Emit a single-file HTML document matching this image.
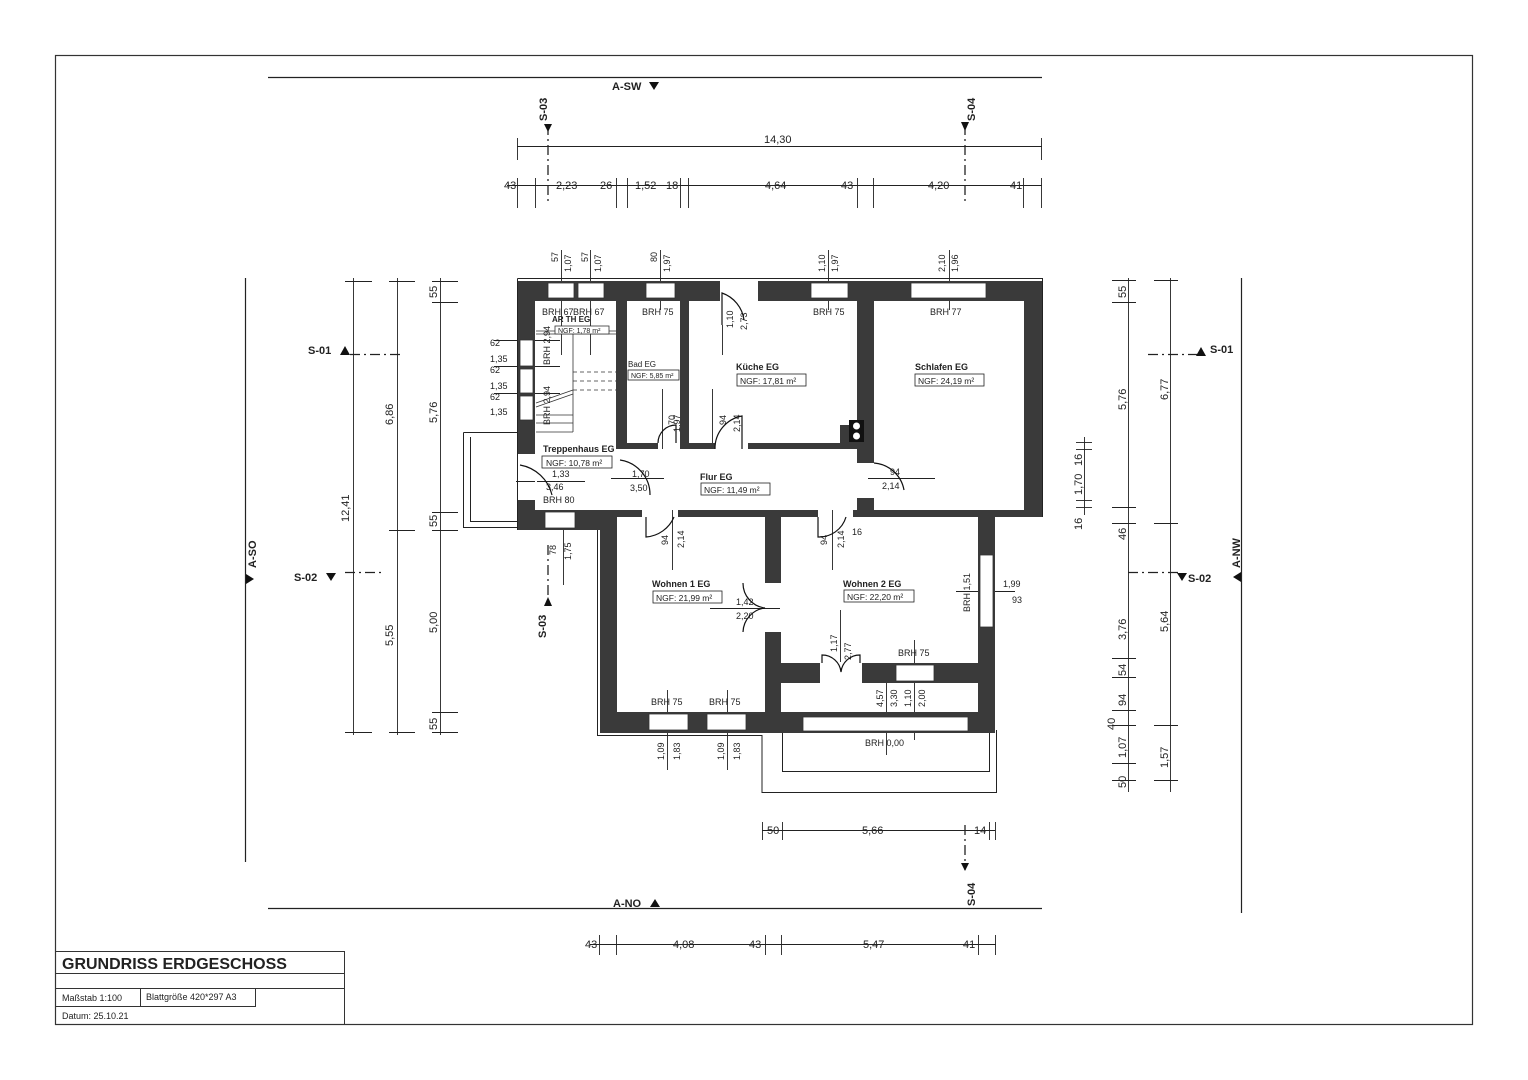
<!DOCTYPE html>
<html><head><meta charset="utf-8"><style>
html,body{margin:0;padding:0;background:#fff}
svg{display:block}
text{font-family:"Liberation Sans",sans-serif;fill:#222}
</style></head><body>
<svg width="1528" height="1080" viewBox="0 0 1528 1080" xmlns="http://www.w3.org/2000/svg">
<rect x="0" y="0" width="1528" height="1080" fill="#fff"/>
<rect x="55.5" y="55.5" width="1417" height="969" fill="none" stroke="#333" stroke-width="1.2"/>

<!-- title block -->
<g stroke="#333" stroke-width="1" fill="none">
<rect x="55.5" y="951.5" width="289" height="73"/>
<line x1="55" y1="973.5" x2="345" y2="973.5"/>
<line x1="55" y1="988.5" x2="345" y2="988.5"/>
<line x1="55" y1="1006.5" x2="255" y2="1006.5"/>
<line x1="140.5" y1="988" x2="140.5" y2="1007"/>
<line x1="255.5" y1="988" x2="255.5" y2="1007"/>
</g>
<text x="62" y="969" font-size="16" font-weight="bold">GRUNDRISS ERDGESCHOSS</text>
<text x="62" y="1001" font-size="9">Maßstab 1:100</text>
<text x="146" y="1000" font-size="9">Blattgröße 420*297 A3</text>
<text x="62" y="1019" font-size="9">Datum: 25.10.21</text>

<!-- view lines -->
<g stroke="#222" stroke-width="1.2">
<line x1="268" y1="77.5" x2="1042" y2="77.5"/>
<line x1="268" y1="908.5" x2="1042" y2="908.5"/>
<line x1="245.5" y1="278" x2="245.5" y2="862"/>
<line x1="1241.5" y1="278" x2="1241.5" y2="913"/>
</g>
<text x="612" y="90" font-size="11" font-weight="bold">A-SW</text>
<polygon points="649,82 659,82 654,90" fill="#111"/>
<text x="613" y="907" font-size="11" font-weight="bold">A-NO</text>
<polygon points="650,907 660,907 655,899" fill="#111"/>
<text transform="translate(256,568) rotate(-90)" font-size="11" font-weight="bold">A-SO</text>
<polygon points="246,574 254,579 246,584" fill="#111"/>
<text transform="translate(1240,568) rotate(-90)" font-size="11" font-weight="bold">A-NW</text>
<polygon points="1241,572 1233,577 1241,582" fill="#111"/>

<!-- section lines -->
<g stroke="#222" stroke-width="1.3" stroke-dasharray="10,4,2,4">
<line x1="548" y1="125" x2="548" y2="205"/>
<line x1="965" y1="125" x2="965" y2="205"/>
<line x1="548" y1="545" x2="548" y2="595"/>
<line x1="965" y1="825" x2="965" y2="870"/>
<line x1="350" y1="354.5" x2="400" y2="354.5"/>
<line x1="1148" y1="354.5" x2="1200" y2="354.5"/>
<line x1="345" y1="572.5" x2="385" y2="572.5"/>
<line x1="1128" y1="572.5" x2="1180" y2="572.5"/>
</g>
<text transform="translate(547,121) rotate(-90)" font-size="11" font-weight="bold">S-03</text>
<polygon points="544,124 552,124 548,132" fill="#111"/>
<text transform="translate(975,121) rotate(-90)" font-size="11" font-weight="bold">S-04</text>
<polygon points="961,122 969,122 965,131" fill="#111"/>
<text transform="translate(546,638) rotate(-90)" font-size="11" font-weight="bold">S-03</text>
<polygon points="544,606 552,606 548,597" fill="#111"/>
<text transform="translate(975,906) rotate(-90)" font-size="11" font-weight="bold">S-04</text>
<polygon points="961,863 969,863 965,871" fill="#111"/>
<text x="308" y="354" font-size="11" font-weight="bold">S-01</text>
<polygon points="340,355 350,355 345,346" fill="#111"/>
<text x="1210" y="353" font-size="11" font-weight="bold">S-01</text>
<polygon points="1196,356 1206,356 1201,347" fill="#111"/>
<text x="294" y="581" font-size="11" font-weight="bold">S-02</text>
<polygon points="326,573 336,573 331,581" fill="#111"/>
<text x="1188" y="582" font-size="11" font-weight="bold">S-02</text>
<polygon points="1177,573 1187,573 1182,581" fill="#111"/>

<!-- dimension lines -->
<g stroke="#222" stroke-width="0.9" fill="none">
<line x1="517" y1="146.5" x2="1042" y2="146.5"/>
<line x1="517.5" y1="138" x2="517.5" y2="160"/><line x1="1041.5" y1="138" x2="1041.5" y2="160"/>
<line x1="507" y1="185.5" x2="1042" y2="185.5"/>
<g>
<line x1="517.5" y1="178" x2="517.5" y2="208"/><line x1="535.5" y1="178" x2="535.5" y2="208"/>
<line x1="616.5" y1="178" x2="616.5" y2="208"/><line x1="627.5" y1="178" x2="627.5" y2="208"/>
<line x1="680.5" y1="178" x2="680.5" y2="208"/><line x1="688.5" y1="178" x2="688.5" y2="208"/>
<line x1="857.5" y1="178" x2="857.5" y2="208"/><line x1="873.5" y1="178" x2="873.5" y2="208"/>
<line x1="1023.5" y1="178" x2="1023.5" y2="208"/><line x1="1041.5" y1="178" x2="1041.5" y2="208"/>
</g>
<line x1="762" y1="830.5" x2="995" y2="830.5"/>
<line x1="762.5" y1="822" x2="762.5" y2="840"/><line x1="782.5" y1="822" x2="782.5" y2="840"/><line x1="989.5" y1="822" x2="989.5" y2="840"/><line x1="995.5" y1="822" x2="995.5" y2="840"/>
<line x1="590" y1="944.5" x2="996" y2="944.5"/>
<line x1="599.5" y1="935" x2="599.5" y2="955"/><line x1="616.5" y1="935" x2="616.5" y2="955"/><line x1="765.5" y1="935" x2="765.5" y2="955"/><line x1="781.5" y1="935" x2="781.5" y2="955"/><line x1="978.5" y1="935" x2="978.5" y2="955"/><line x1="995.5" y1="935" x2="995.5" y2="955"/>
<line x1="353.5" y1="278" x2="353.5" y2="735"/>
<line x1="345" y1="281.5" x2="372" y2="281.5"/><line x1="345" y1="732.5" x2="372" y2="732.5"/>
<line x1="397.5" y1="278" x2="397.5" y2="735"/>
<line x1="389" y1="281.5" x2="415" y2="281.5"/><line x1="389" y1="530.5" x2="415" y2="530.5"/><line x1="389" y1="732.5" x2="415" y2="732.5"/>
<line x1="440.5" y1="278" x2="440.5" y2="735"/>
<line x1="432" y1="281.5" x2="458" y2="281.5"/><line x1="432" y1="302.5" x2="458" y2="302.5"/><line x1="432" y1="512.5" x2="458" y2="512.5"/><line x1="432" y1="530.5" x2="458" y2="530.5"/><line x1="432" y1="712.5" x2="458" y2="712.5"/><line x1="432" y1="732.5" x2="458" y2="732.5"/>
<line x1="1128.5" y1="278" x2="1128.5" y2="792"/>
<line x1="1112" y1="280.5" x2="1136" y2="280.5"/><line x1="1112" y1="302.5" x2="1136" y2="302.5"/><line x1="1112" y1="507.5" x2="1136" y2="507.5"/><line x1="1112" y1="523.5" x2="1136" y2="523.5"/><line x1="1112" y1="658.5" x2="1136" y2="658.5"/><line x1="1112" y1="677.5" x2="1136" y2="677.5"/><line x1="1112" y1="710.5" x2="1136" y2="710.5"/><line x1="1112" y1="725.5" x2="1136" y2="725.5"/><line x1="1112" y1="763.5" x2="1136" y2="763.5"/><line x1="1112" y1="780.5" x2="1136" y2="780.5"/>
<line x1="1170.5" y1="278" x2="1170.5" y2="792"/>
<line x1="1154" y1="280.5" x2="1178" y2="280.5"/><line x1="1154" y1="523.5" x2="1178" y2="523.5"/><line x1="1154" y1="725.5" x2="1178" y2="725.5"/><line x1="1154" y1="780.5" x2="1178" y2="780.5"/>
<line x1="1084.5" y1="437" x2="1084.5" y2="515"/>
<line x1="1076" y1="442.5" x2="1092" y2="442.5"/><line x1="1076" y1="507.5" x2="1092" y2="507.5"/><line x1="1076" y1="500.5" x2="1092" y2="500.5"/><line x1="1076" y1="449.5" x2="1092" y2="449.5"/>
<line x1="561.5" y1="250" x2="561.5" y2="355"/><line x1="590.5" y1="250" x2="590.5" y2="355"/>
<line x1="660.5" y1="250" x2="660.5" y2="310"/><line x1="828.5" y1="250" x2="828.5" y2="310"/><line x1="949.5" y1="250" x2="949.5" y2="310"/>
<line x1="667.5" y1="690" x2="667.5" y2="770"/><line x1="727.5" y1="690" x2="727.5" y2="770"/>
<line x1="563.5" y1="510" x2="563.5" y2="585"/>
<line x1="886.5" y1="663" x2="886.5" y2="755"/><line x1="914.5" y1="640" x2="914.5" y2="740"/>
<line x1="840.5" y1="610" x2="840.5" y2="683"/>
<line x1="710" y1="608.5" x2="780" y2="608.5"/>
<line x1="956" y1="591.5" x2="1015" y2="591.5"/>
<line x1="832.5" y1="510" x2="832.5" y2="570"/><line x1="672.5" y1="510" x2="672.5" y2="570"/>
<line x1="722.5" y1="325" x2="722.5" y2="355"/><line x1="712.5" y1="389" x2="712.5" y2="449"/><line x1="662.5" y1="389" x2="662.5" y2="449"/>
<line x1="611" y1="478.5" x2="664" y2="478.5"/><line x1="868" y1="478.5" x2="935" y2="478.5"/>
<line x1="516" y1="481.5" x2="585" y2="481.5"/>
<line x1="494" y1="340.5" x2="560" y2="340.5"/><line x1="494" y1="366.5" x2="560" y2="366.5"/><line x1="494" y1="393.5" x2="560" y2="393.5"/>
</g>
<g font-size="11">
<text x="764" y="143">14,30</text>
<text x="504" y="189">43</text><text x="556" y="189">2,23</text><text x="600" y="189">26</text><text x="635" y="189">1,52</text><text x="666" y="189">18</text>
<text x="765" y="189">4,64</text><text x="841" y="189">43</text><text x="928" y="189">4,20</text><text x="1010" y="189">41</text>
<text x="767" y="834">50</text><text x="862" y="834">5,66</text><text x="974" y="834">14</text>
<text x="585" y="948">43</text><text x="673" y="948">4,08</text><text x="749" y="948">43</text><text x="863" y="948">5,47</text><text x="963" y="948">41</text>
</g>
<g font-size="11">
<text transform="translate(349,522) rotate(-90)">12,41</text>
<text transform="translate(393,425) rotate(-90)">6,86</text>
<text transform="translate(393,646) rotate(-90)">5,55</text>
<text transform="translate(437,298) rotate(-90)">55</text>
<text transform="translate(437,423) rotate(-90)">5,76</text>
<text transform="translate(437,527) rotate(-90)">55</text>
<text transform="translate(437,633) rotate(-90)">5,00</text>
<text transform="translate(437,730) rotate(-90)">55</text>
<text transform="translate(1126,298) rotate(-90)">55</text>
<text transform="translate(1126,410) rotate(-90)">5,76</text>
<text transform="translate(1126,540) rotate(-90)">46</text>
<text transform="translate(1126,640) rotate(-90)">3,76</text>
<text transform="translate(1126,676) rotate(-90)">54</text>
<text transform="translate(1126,706) rotate(-90)">94</text>
<text transform="translate(1115,730) rotate(-90)">40</text>
<text transform="translate(1126,758) rotate(-90)">1,07</text>
<text transform="translate(1126,788) rotate(-90)">50</text>
<text transform="translate(1168,400) rotate(-90)">6,77</text>
<text transform="translate(1168,632) rotate(-90)">5,64</text>
<text transform="translate(1168,768) rotate(-90)">1,57</text>
<text transform="translate(1082,530) rotate(-90)">16</text>
<text transform="translate(1082,495) rotate(-90)">1,70</text>
<text transform="translate(1082,466) rotate(-90)">16</text>
</g>
<g font-size="9">
<text transform="translate(558,262) rotate(-90)">57</text><text transform="translate(571,272) rotate(-90)">1,07</text>
<text transform="translate(588,262) rotate(-90)">57</text><text transform="translate(601,272) rotate(-90)">1,07</text>
<text transform="translate(657,262) rotate(-90)">80</text><text transform="translate(670,272) rotate(-90)">1,97</text>
<text transform="translate(825,272) rotate(-90)">1,10</text><text transform="translate(838,272) rotate(-90)">1,97</text>
<text transform="translate(945,272) rotate(-90)">2,10</text><text transform="translate(958,272) rotate(-90)">1,96</text>
<text transform="translate(664,760) rotate(-90)">1,09</text><text transform="translate(680,760) rotate(-90)">1,83</text>
<text transform="translate(724,760) rotate(-90)">1,09</text><text transform="translate(740,760) rotate(-90)">1,83</text>
<text transform="translate(556,555) rotate(-90)">78</text><text transform="translate(571,560) rotate(-90)">1,75</text>
<text transform="translate(883,707) rotate(-90)">4,57</text><text transform="translate(897,707) rotate(-90)">3,30</text>
<text transform="translate(911,707) rotate(-90)">1,10</text><text transform="translate(925,707) rotate(-90)">2,00</text>
<text transform="translate(837,652) rotate(-90)">1,17</text><text transform="translate(851,660) rotate(-90)">2,77</text>
<text transform="translate(733,328) rotate(-90)">1,10</text><text transform="translate(747,330) rotate(-90)">2,73</text>
<text transform="translate(675,425) rotate(-90)">70</text><text transform="translate(680,432) rotate(-90)">1,97</text>
<text transform="translate(726,425) rotate(-90)">94</text><text transform="translate(740,432) rotate(-90)">2,14</text>
<text transform="translate(668,545) rotate(-90)">94</text><text transform="translate(684,548) rotate(-90)">2,14</text>
<text transform="translate(827,545) rotate(-90)">94</text><text transform="translate(844,548) rotate(-90)">2,14</text>
<text transform="translate(970,612) rotate(-90)">BRH 1,51</text>
<text transform="translate(550,365) rotate(-90)">BRH 2,94</text>
<text transform="translate(550,425) rotate(-90)">BRH 2,94</text>
<text x="490" y="346">62</text><text x="490" y="362">1,35</text>
<text x="490" y="373">62</text><text x="490" y="389">1,35</text>
<text x="490" y="400">62</text><text x="490" y="415">1,35</text>
<text x="632" y="477">1,70</text><text x="630" y="491">3,50</text>
<text x="890" y="475">94</text><text x="882" y="489">2,14</text>
<text x="552" y="477">1,33</text><text x="546" y="490">3,46</text>
<text x="736" y="605">1,42</text><text x="736" y="619">2,20</text>
<text x="1003" y="587">1,99</text><text x="1012" y="603">93</text>
<text x="852" y="535">16</text>
</g>

<g fill="none" stroke="#222" stroke-width="1">
<path d="M517.5 278.5 H1042.5 V517"/>
<path d="M517.5 278.5 V530"/>
<path d="M463.5 432.5 H517 M463.5 432.5 V527.5 H517 M470.5 437 V521.5 H517"/>
<path d="M597.5 530 V735.5 H762 V792.5 H996.5 V730"/>
<path d="M782.5 733 V771.5 H989.5 V733"/>
</g>

<g fill="#3a3a3a">
<rect x="518" y="281" width="524" height="20"/>
<rect x="1024" y="281" width="18" height="236"/>
<rect x="518" y="281" width="17" height="173"/>
<rect x="518" y="500" width="17" height="30"/>
<rect x="518" y="510" width="98" height="20"/>
<rect x="616" y="281" width="11" height="168"/>
<rect x="680" y="281" width="9" height="168"/>
<rect x="857" y="281" width="17" height="182"/>
<rect x="857" y="498" width="17" height="19"/>
<rect x="689" y="443" width="26" height="6"/>
<rect x="748" y="443" width="109" height="6"/>
<rect x="840" y="425" width="17" height="24"/>
<rect x="627" y="443" width="31" height="6"/>
<rect x="598" y="510" width="44" height="7"/>
<rect x="678" y="510" width="140" height="7"/>
<rect x="853" y="510" width="189" height="7"/>
<rect x="600" y="510" width="17" height="223"/>
<rect x="600" y="712" width="395" height="21"/>
<rect x="765" y="515" width="16" height="68"/>
<rect x="765" y="632" width="16" height="100"/>
<rect x="978" y="515" width="17" height="218"/>
<rect x="781" y="663" width="40" height="20"/>
<rect x="862" y="663" width="116" height="20"/>
</g>
<g fill="#fff" stroke="#333" stroke-width="0.8">
<rect x="548" y="283" width="26" height="15"/>
<rect x="578" y="283" width="26" height="15"/>
<rect x="646" y="283" width="29" height="15"/>
<rect x="720" y="281" width="38" height="21" stroke="none"/>
<rect x="811" y="283" width="37" height="15"/>
<rect x="911" y="283" width="75" height="15"/>
<rect x="520" y="340" width="13" height="26"/>
<rect x="520" y="369" width="13" height="24"/>
<rect x="520" y="396" width="13" height="24"/>
<rect x="545" y="512" width="30" height="16"/>
<rect x="649" y="714" width="39" height="16"/>
<rect x="707" y="714" width="39" height="16"/>
<rect x="896" y="665" width="38" height="16"/>
<rect x="980" y="555" width="13" height="72"/>
<rect x="803" y="717" width="165" height="14"/>
<rect x="820" y="662" width="42" height="22" stroke="none"/>
<rect x="535" y="454" width="2" height="46" stroke="none"/>
</g>

<g fill="none" stroke="#333" stroke-width="0.8">
<line x1="536" y1="331" x2="616" y2="331"/>
<line x1="536" y1="334" x2="616" y2="334"/>
<line x1="573" y1="334" x2="573" y2="432"/>
<line x1="536" y1="432" x2="573" y2="432"/>
<line x1="536" y1="403" x2="573" y2="390"/>
<line x1="536" y1="407" x2="573" y2="394"/>
<g stroke-dasharray="4,3">
<line x1="573" y1="372" x2="616" y2="372"/>
<line x1="573" y1="381" x2="616" y2="381"/>
<line x1="573" y1="390" x2="616" y2="390"/>
</g>
<line x1="536" y1="415" x2="573" y2="415"/>
<line x1="536" y1="423" x2="573" y2="423"/>
<rect x="555" y="326" width="54" height="8" fill="#fff"/>
</g>

<g fill="none" stroke="#111" stroke-width="1.2">
<path d="M722 325 V293 A33 33 0 0 1 744 320"/>
<path d="M658 443 A18 18 0 0 1 676 425 V443"/>
<path d="M715 449 A33 33 0 0 1 742 416 V449"/>
<path d="M874 463 A33 33 0 0 1 904 490"/>
<path d="M620 460 A35 35 0 0 1 650 495"/>
<path d="M646 517 V537 A33 33 0 0 0 674 517"/>
<path d="M818 517 V537 A28 28 0 0 0 846 517"/>
<path d="M743 583 A25 25 0 0 0 765 608 A25 25 0 0 0 743 632"/>
<path d="M822 663 V655 A19 19 0 0 1 841 672 A19 19 0 0 1 860 655 V663"/>
<path d="M520 465 A40 40 0 0 1 552 495"/>
</g>

<rect x="849" y="420" width="15" height="22" fill="#111"/>
<circle cx="856.5" cy="426" r="3.5" fill="#fff"/>
<circle cx="856.5" cy="436" r="3.5" fill="#fff"/>

<g font-size="9">
<text x="542" y="315">BRH 67</text><text x="573" y="315">BRH 67</text>
<text x="642" y="315">BRH 75</text><text x="813" y="315">BRH 75</text><text x="930" y="315">BRH 77</text>
<text x="543" y="503">BRH 80</text>
<text x="651" y="705">BRH 75</text><text x="709" y="705">BRH 75</text><text x="898" y="656">BRH 75</text>
<text x="865" y="746">BRH 0,00</text>
<text x="628" y="367" font-size="8">Bad EG</text>
<text x="736" y="370" font-weight="bold">Küche EG</text>
<text x="915" y="370" font-weight="bold">Schlafen EG</text>
<text x="543" y="452" font-weight="bold">Treppenhaus EG</text>
<text x="700" y="480" font-weight="bold">Flur EG</text>
<text x="652" y="587" font-weight="bold">Wohnen 1 EG</text>
<text x="843" y="587" font-weight="bold">Wohnen 2 EG</text>
</g>
<g fill="none" stroke="#222" stroke-width="0.8">
<rect x="628" y="370" width="51" height="10"/>
<rect x="737" y="374" width="69" height="12"/>
<rect x="915" y="374" width="69" height="12"/>
<rect x="542" y="456" width="70" height="12"/>
<rect x="701" y="483" width="69" height="12"/>
<rect x="653" y="591" width="69" height="12"/>
<rect x="844" y="590" width="70" height="12"/>
</g>
<g font-size="8.5">
<text x="631" y="378" font-size="7" fill="#555">NGF: 5,85 m²</text>
<text x="740" y="384">NGF: 17,81 m²</text>
<text x="918" y="384">NGF: 24,19 m²</text>
<text x="546" y="466">NGF: 10,78 m²</text>
<text x="704" y="493">NGF: 11,49 m²</text>
<text x="656" y="601">NGF: 21,99 m²</text>
<text x="847" y="600">NGF: 22,20 m²</text>
<text x="558" y="333" font-size="7" fill="#555">NGF: 1,78 m²</text>
<text x="552" y="322" font-size="8" font-weight="bold">AR TH EG</text>
</g>
</svg>
</body></html>
